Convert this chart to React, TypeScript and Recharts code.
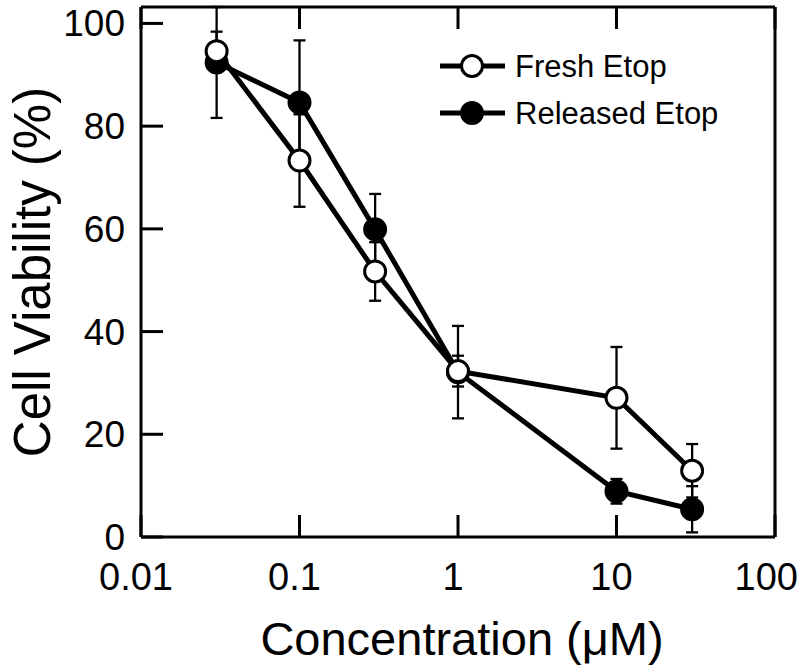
import React from 'react';
import { LineChart, Line, XAxis, YAxis, ErrorBar } from 'recharts';

const concentrations = [0.03, 0.1, 0.3, 1, 10, 30];
const freshViability = [94.6, 73.3, 51.7, 32.3, 27.1, 12.9];
const freshError = [3.8, 9, 5.7, 3, 9.9, 5.2];
const releasedViability = [92.4, 84.6, 59.9, 32.1, 8.9, 5.4];
const releasedError = [10.8, 12.1, 6.9, 9, 2.4, 4.5];
const xTicks = [0.01, 0.1, 1, 10, 100];
const yTicks = [0, 20, 40, 60, 80, 100];
const seriesNames = ['Fresh Etop', 'Released Etop'];
const seriesFills = ['#ffffff', '#000000'];

const data = concentrations.map((c, i) => ({
  x: c,
  fresh: freshViability[i],
  freshErr: freshError[i],
  released: releasedViability[i],
  releasedErr: releasedError[i],
}));

const FONT = '"Liberation Sans", Arial, Helvetica, sans-serif';
const TICK_LEN = 22;
const CHART_W = 800;

const BottomTick = (props: any) => {
  const { x, y, payload } = props;
  const label = String(payload.value);
  const fs = 38;
  const half = (label.length * 0.556 * fs) / 2;
  let tx = x - 5;
  let anchor: 'middle' | 'end' = 'middle';
  if (tx + half > CHART_W - 2) {
    tx = CHART_W - 2;
    anchor = 'end';
  }
  return (
    <g>
      <line x1={x} y1={y} x2={x} y2={y - TICK_LEN} stroke="#000" strokeWidth={3} />
      <text x={tx} y={y + 53} textAnchor={anchor} fontSize={fs} fontFamily={FONT} fill="#000">
        {label}
      </text>
    </g>
  );
};

const LeftTick = (props: any) => {
  const { x, y, payload } = props;
  return (
    <g>
      <line x1={x} y1={y} x2={x + TICK_LEN} y2={y} stroke="#000" strokeWidth={3} />
      <text x={x - 16} y={y + 13} textAnchor="end" fontSize={37} fontFamily={FONT} fill="#000">
        {String(payload.value)}
      </text>
    </g>
  );
};

const TopTick = (props: any) => {
  const { x, y } = props;
  return <line x1={x} y1={y} x2={x} y2={y + TICK_LEN} stroke="#000" strokeWidth={3} />;
};

const RightTick = (props: any) => {
  const { x, y } = props;
  return <line x1={x} y1={y} x2={x - TICK_LEN} y2={y} stroke="#000" strokeWidth={3} />;
};

const XTitle = (props: any) => {
  const vb = props.viewBox || {};
  const cx = vb.x + vb.width / 2 + 4;
  return (
    <text x={cx} y={655} textAnchor="middle" fontSize={47} fontFamily={FONT} fill="#000">
      Concentration (μM)
    </text>
  );
};

const YTitle = (props: any) => {
  const vb = props.viewBox || {};
  const cy = vb.y + vb.height / 2;
  return (
    <text
      x={50}
      y={cy}
      transform={`rotate(-90 50 ${cy})`}
      textAnchor="middle"
      fontSize={51}
      fontFamily={FONT}
      fill="#000"
    >
      Cell Viability (%)
    </text>
  );
};

const LegendOverlay = () => (
  <svg width={800} height={667} style={{ position: 'absolute', left: 0, top: 0, pointerEvents: 'none' }}>
    {seriesNames.map((name, i) => {
      const cy = 66 + i * 47;
      return (
        <g key={name}>
          <line x1={440} y1={cy} x2={505} y2={cy} stroke="#000" strokeWidth={5} />
          <circle cx={472} cy={cy} r={10.5} fill={seriesFills[i]} stroke="#000" strokeWidth={3} />
          <text x={515} y={cy + 11} fontSize={31} fontFamily={FONT} fill="#000">
            {name}
          </text>
        </g>
      );
    })}
  </svg>
);

export default function App() {
  return (
    <div style={{ position: 'absolute', left: 0, top: 0, width: 800, height: 667, background: '#fff' }}>
      <LineChart width={800} height={667} data={data} margin={{ top: 0, right: 0, bottom: 0, left: 0 }}>
        <XAxis
          xAxisId="bottom"
          dataKey="x"
          type="number"
          scale="log"
          domain={[0.01, 100]}
          ticks={xTicks}
          allowDataOverflow
          orientation="bottom"
          height={130}
          tickSize={0}
          tickMargin={0}
          tickLine={false}
          axisLine={{ stroke: '#000', strokeWidth: 3 }}
          tick={BottomTick}
          interval={0}
          label={{ content: XTitle }}
        />
        <XAxis
          xAxisId="top"
          dataKey="x"
          type="number"
          scale="log"
          domain={[0.01, 100]}
          ticks={xTicks}
          allowDataOverflow
          orientation="top"
          height={7}
          tickSize={0}
          tickMargin={0}
          tickLine={false}
          axisLine={{ stroke: '#000', strokeWidth: 3 }}
          tick={TopTick}
          interval={0}
        />
        <YAxis
          yAxisId="left"
          type="number"
          domain={[0, 100]}
          ticks={yTicks}
          orientation="left"
          width={141}
          tickSize={0}
          tickMargin={0}
          tickLine={false}
          axisLine={{ stroke: '#000', strokeWidth: 3 }}
          tick={LeftTick}
          interval={0}
          label={{ content: YTitle }}
        />
        <YAxis
          yAxisId="right"
          type="number"
          domain={[0, 100]}
          ticks={yTicks}
          orientation="right"
          width={25}
          tickSize={0}
          tickMargin={0}
          tickLine={false}
          axisLine={{ stroke: '#000', strokeWidth: 3 }}
          tick={RightTick}
          interval={0}
        />
        <Line
          xAxisId="bottom"
          yAxisId="left"
          dataKey="released"
          name={seriesNames[1]}
          type="linear"
          stroke="#000"
          strokeWidth={5}
          dot={{ r: 10.5, fill: '#000', stroke: '#000', strokeWidth: 3 }}
          activeDot={false}
          isAnimationActive={false}
        >
          <ErrorBar dataKey="releasedErr" direction="y" width={6} stroke="#000" strokeWidth={2.3} />
        </Line>
        <Line
          xAxisId="bottom"
          yAxisId="left"
          dataKey="fresh"
          name={seriesNames[0]}
          type="linear"
          stroke="#000"
          strokeWidth={5}
          dot={{ r: 10.5, fill: '#fff', stroke: '#000', strokeWidth: 3 }}
          activeDot={false}
          isAnimationActive={false}
        >
          <ErrorBar dataKey="freshErr" direction="y" width={6} stroke="#000" strokeWidth={2.3} />
        </Line>
      </LineChart>
      <LegendOverlay />
    </div>
  );
}
